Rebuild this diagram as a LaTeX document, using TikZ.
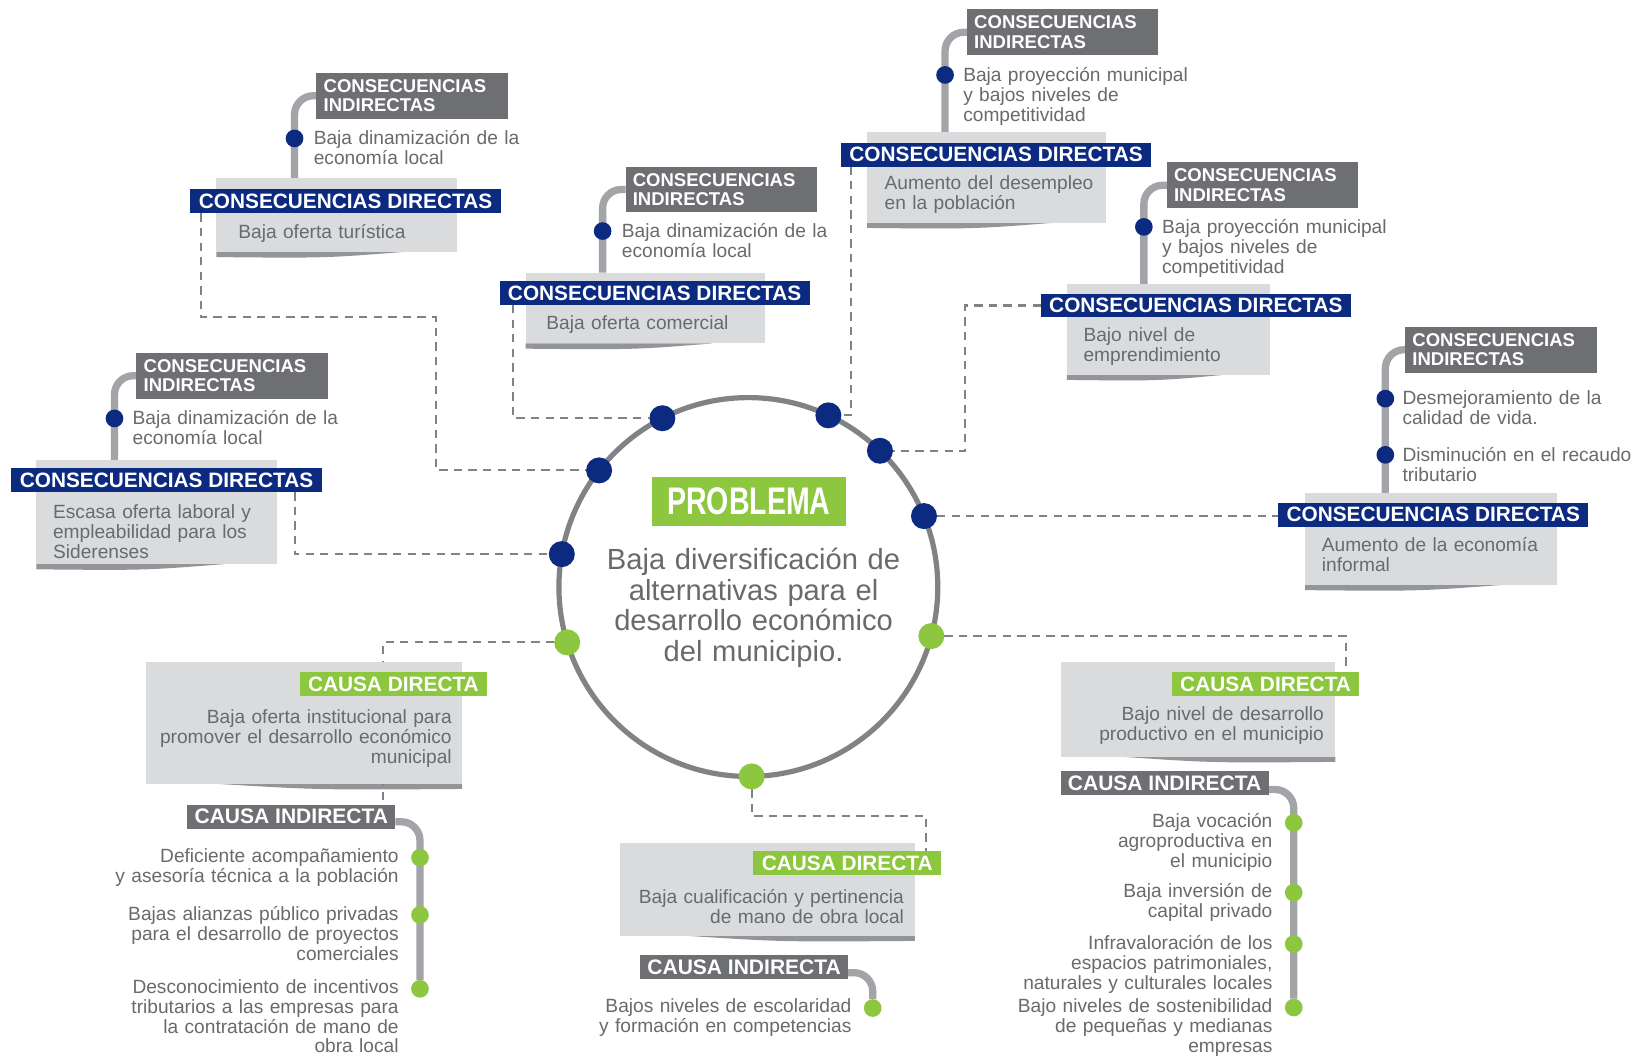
\documentclass[tikz,border=0pt]{standalone}
\usepackage{fontspec}
\setmainfont{Liberation Sans}
\newfontfamily\condfont[FakeStretch=0.74]{Liberation Sans}
\usepackage{xcolor}
\usetikzlibrary{calc,backgrounds}

\definecolor{navy}{RGB}{12,42,128}
\definecolor{hgray}{RGB}{110,111,114}
\definecolor{lime}{RGB}{141,198,63}
\definecolor{boxgray}{RGB}{218,219,221}
\definecolor{txtgray}{RGB}{105,106,110}
\definecolor{ringgray}{RGB}{128,130,134}
\definecolor{linegray}{RGB}{162,164,168}
\definecolor{shadegray}{RGB}{148,149,153}

\begin{document}
\begin{tikzpicture}[x=1pt,y=-1pt,inner sep=0pt,outer sep=0pt]
\tikzstyle{dhead}=[fill=navy,text=white,anchor=north west,minimum height=23pt,minimum width=298pt,font=\bfseries\fontsize{20}{20}\selectfont]
\tikzstyle{ihead}=[fill=hgray,text=white,anchor=north west,minimum height=44pt,text width=170pt,inner xsep=7pt,align=left,font=\bfseries\fontsize{17.8}{18.6}\selectfont]
\tikzstyle{chead}=[fill=lime,text=white,anchor=north east,minimum height=23pt,inner xsep=8pt,font=\bfseries\fontsize{20}{20}\selectfont]
\tikzstyle{cihead}=[fill=hgray,text=white,anchor=north west,minimum height=23pt,inner xsep=7pt,font=\bfseries\fontsize{20.2}{20}\selectfont]
\tikzstyle{grbox}=[fill=boxgray,anchor=north west]
\tikzstyle{txt}=[text=txtgray,text width=300pt,font=\fontsize{18.4}{19.2}\selectfont]
\tikzstyle{ltxt}=[txt,anchor=base west,align=left]
\tikzstyle{rtxt}=[txt,anchor=base east,align=right]
\tikzstyle{sdot}=[circle,minimum size=17pt]
\tikzstyle{rdot}=[circle,minimum size=25pt]
\tikzstyle{conn}=[draw=linegray,line width=7pt,rounded corners=18pt]
\tikzstyle{guide}=[draw=ringgray,line width=2pt,dash pattern=on 8pt off 6pt]
\tikzstyle{lshade}=[fill=shadegray]

\useasboundingbox (0,0) rectangle (1568,1015);

\node[circle,draw=ringgray,line width=5pt,minimum size=364pt] (ring) at (719,564) {};
\node[fill=lime,text=white,minimum width=187pt,minimum height=47pt,font=\condfont\bfseries\fontsize{37}{37}\selectfont] (prob) at (719.5,482) {PROBLEMA};
\node[txt,anchor=base,align=center,font=\fontsize{28}{29.5}\selectfont] (ptxt) at (724,547) {Baja diversificación de\\alternativas para el\\desarrollo económico\\del municipio.};

\node[rdot,fill=navy] (rb1) at (ring.117) {};
\node[rdot,fill=navy] (rb2) at (ring.65) {};
\node[rdot,fill=navy] (rb3) at (ring.142) {};
\node[rdot,fill=navy] (rb4) at (ring.46) {};
\node[rdot,fill=navy] (rb5) at (ring.22.5) {};
\node[rdot,fill=navy] (rb6) at (ring.170) {};
\node[rdot,fill=lime] (gr1) at (ring.197) {};
\node[rdot,fill=lime] (gr2) at (ring.-15) {};
\node[rdot,fill=lime] (gr3) at (ring.-89) {};

\node[grbox,minimum width=231pt,minimum height=71pt] (bA) at (208,171) {};
\node[dhead] (dA) at (183,182) {CONSECUENCIAS DIRECTAS};
\node[ihead] (iA) at (304,70) {CONSECUENCIAS\\INDIRECTAS};
\node[sdot,fill=navy] (cA1) at (283,133) {};
\node[ltxt] (tA1) at ([shift={(10,6)}]cA1.east) {Baja dinamización de la\\economía local};
\node[ltxt] (xA) at (229,229) {Baja oferta turística};

\node[grbox,minimum width=230pt,minimum height=68pt] (bB) at (505,262) {};
\node[dhead] (dB) at (480,270) {CONSECUENCIAS DIRECTAS};
\node[ihead] (iB) at (601,160) {CONSECUENCIAS\\INDIRECTAS};
\node[sdot,fill=navy] (cB1) at (579,222) {};
\node[ltxt] (tB1) at ([shift={(10,6)}]cB1.east) {Baja dinamización de la\\economía local};
\node[ltxt] (xB) at (525,317) {Baja oferta comercial};

\node[grbox,minimum width=230pt,minimum height=87pt] (bC) at (833,127) {};
\node[dhead] (dC) at (808,137) {CONSECUENCIAS DIRECTAS};
\node[ihead] (iC) at (929,9) {CONSECUENCIAS\\INDIRECTAS};
\node[sdot,fill=navy] (cC1) at (908,72) {};
\node[ltxt] (tC1) at ([shift={(9,6)}]cC1.east) {Baja proyección municipal\\y bajos niveles de\\competitividad};
\node[ltxt] (xC) at (850,182) {Aumento del desempleo\\en la población};

\node[grbox,minimum width=195pt,minimum height=87pt] (bD) at (1025,273) {};
\node[dhead] (dD) at (1000,282) {CONSECUENCIAS DIRECTAS};
\node[ihead] (iD) at (1121,156) {CONSECUENCIAS\\INDIRECTAS};
\node[sdot,fill=navy] (cD1) at (1099,218) {};
\node[ltxt] (tD1) at ([shift={(9,6)}]cD1.east) {Baja proyección municipal\\y bajos niveles de\\competitividad};
\node[ltxt] (xD) at (1041,328) {Bajo nivel de\\emprendimiento};

\node[grbox,minimum width=231pt,minimum height=100pt] (bE) at (35,442) {};
\node[dhead] (dE) at (11,450) {CONSECUENCIAS DIRECTAS};
\node[ihead] (iE) at (131,339) {CONSECUENCIAS\\INDIRECTAS};
\node[sdot,fill=navy] (cE1) at (110,402) {};
\node[ltxt] (tE1) at ([shift={(9,6)}]cE1.east) {Baja dinamización de la\\economía local};
\node[ltxt] (xE) at (51,498) {Escasa oferta laboral y\\empleabilidad para los\\Siderenses};

\node[grbox,minimum width=242pt,minimum height=88pt] (bF) at (1254,474) {};
\node[dhead] (dF) at (1228,483) {CONSECUENCIAS DIRECTAS};
\node[ihead] (iF) at (1350,314) {CONSECUENCIAS\\INDIRECTAS};
\node[sdot,fill=navy] (cF1) at (1331,383) {};
\node[sdot,fill=navy] (cF2) at (1331,437) {};
\node[ltxt] (tF1) at ([shift={(8,6)}]cF1.east) {Desmejoramiento de la\\calidad de vida.};
\node[ltxt] (tF2) at ([shift={(8,6)}]cF2.east) {Disminución en el recaudo\\tributario};
\node[ltxt] (xF) at (1270,530) {Aumento de la economía\\informal};

\node[grbox,minimum width=304pt,minimum height=117pt] (bG) at (140,636) {};
\node[chead] (cG) at (468,646) {CAUSA DIRECTA};
\node[rtxt] (xG) at (434,695) {Baja oferta institucional para\\promover el desarrollo económico\\municipal};
\node[cihead] (ciG) at (180,773) {CAUSA INDIRECTA};
\node[sdot,fill=lime] (gG1) at (403.5,824) {};
\node[sdot,fill=lime] (gG2) at (403.5,879) {};
\node[sdot,fill=lime] (gG3) at (403.5,950) {};
\node[rtxt] (tG1) at ([shift={(-12,5)}]gG1.west) {Deficiente acompañamiento\\y asesoría técnica a la población};
\node[rtxt] (tG2) at ([shift={(-12,5)}]gG2.west) {Bajas alianzas público privadas\\para el desarrollo de proyectos\\comerciales};
\node[rtxt,font=\fontsize{18.4}{18.8}\selectfont] (tG3) at ([shift={(-12,5)}]gG3.west) {Desconocimiento de incentivos\\tributarios a las empresas para\\la contratación de mano de\\obra local};

\node[grbox,minimum width=283pt,minimum height=89pt] (bH) at (596,810) {};
\node[chead] (cH) at (904,818) {CAUSA DIRECTA};
\node[rtxt] (xH) at (868.5,868.5) {Baja cualificación y pertinencia\\de mano de obra local};
\node[cihead] (ciH) at (615,918) {CAUSA INDIRECTA};
\node[sdot,fill=lime] (gH1) at (838.5,968.5) {};
\node[rtxt] (tH1) at ([shift={(-12,4)}]gH1.west) {Bajos niveles de escolaridad\\y formación en competencias};

\node[grbox,minimum width=264pt,minimum height=91pt] (bI) at (1019,636) {};
\node[chead] (cI) at (1306,646) {CAUSA DIRECTA};
\node[rtxt] (xI) at (1272,692) {Bajo nivel de desarrollo\\productivo en el municipio};
\node[cihead] (ciI) at (1019,741) {CAUSA INDIRECTA};
\node[sdot,fill=lime] (gI1) at (1243,790.5) {};
\node[sdot,fill=lime] (gI2) at (1243,857.5) {};
\node[sdot,fill=lime] (gI3) at (1243,907) {};
\node[sdot,fill=lime] (gI4) at (1243,968) {};
\node[rtxt] (tI1) at ([shift={(-12,5)}]gI1.west) {Baja vocación\\agroproductiva en\\el municipio};
\node[rtxt] (tI2) at ([shift={(-12,5)}]gI2.west) {Baja inversión de\\capital privado};
\node[rtxt] (tI3) at ([shift={(-12,5)}]gI3.west) {Infravaloración de los\\espacios patrimoniales,\\naturales y culturales locales};
\node[rtxt] (tI4) at ([shift={(-12,5)}]gI4.west) {Bajo niveles de sostenibilidad\\de pequeñas y medianas\\empresas};

\coordinate (kA) at (419,305);
\coordinate (kD) at ($(rb4)+(82,0)$);
\coordinate (kG) at (368,801);
\coordinate (kH) at ($(gr3)+(0,38)$);

\begin{pgfonlayer}{background}
\fill[white] (0,0) rectangle (1568,1015);
\foreach \b in {bA,bB,bC,bD,bE,bF}
  \fill[lshade] (\b.south west) -- ($(\b.south west)!0.78!(\b.south east)$) .. controls ($(\b.south west)!0.45!(\b.south east)+(0,6)$) .. ([yshift=-5pt]\b.south west) -- cycle;
\foreach \b in {bG,bH,bI}
  \fill[lshade] (\b.south east) -- ($(\b.south west)!0.22!(\b.south east)$) .. controls ($(\b.south west)!0.55!(\b.south east)+(0,6)$) .. ([yshift=-5pt]\b.south east) -- cycle;

\draw[conn] (cA1 |- bA.north) |- (iA.west);
\draw[conn] (cB1 |- bB.north) |- (iB.west);
\draw[conn] (cC1 |- bC.north) |- (iC.west);
\draw[conn] (cD1 |- bD.north) |- (iD.west);
\draw[conn] (cE1 |- bE.north) |- (iE.west);
\draw[conn] (cF1 |- bF.north) |- (iF.west);
\draw[conn] ([yshift=-5pt]ciG.east) -| (gG3);
\draw[conn] ([yshift=-5pt]ciH.east) -| (gH1);
\draw[conn] ([yshift=-6pt]ciI.east) -| (gI4);

\draw[guide] ([xshift=10pt]dA.south west) |- (kA) |- (rb3);
\draw[guide] ([xshift=13pt]dB.south west) |- (rb1);
\draw[guide] ([xshift=10pt]dC.south west) |- (rb2);
\draw[guide] (dD.west) -| (kD) -- (rb4);
\draw[guide] (rb5) -- (rb5 -| dF.west);
\draw[guide] ([xshift=-26pt]dE.south east) |- (rb6);
\draw[guide] (gr1) -| (kG);
\draw[guide] (gr3) -- (kH) -| ([xshift=-14pt]cH.north east);
\draw[guide] (gr2) -| ([xshift=-13pt]cI.north east);
\end{pgfonlayer}
\end{tikzpicture}
\end{document}
